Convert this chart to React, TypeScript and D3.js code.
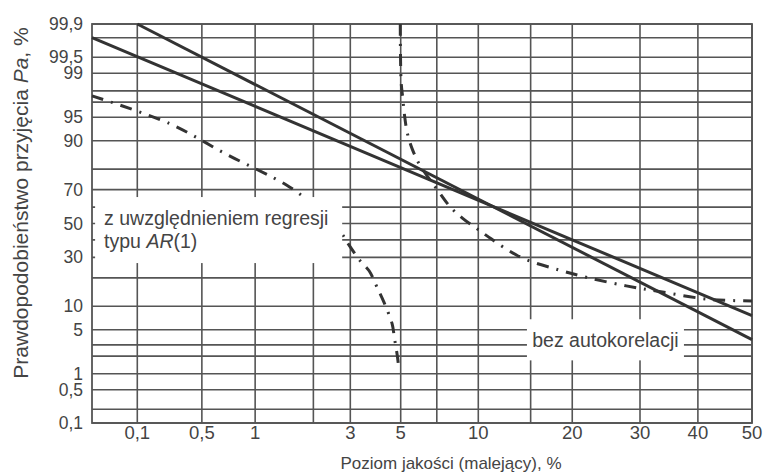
import * as d3 from "d3";

// probability-paper grid (both axes on a normal-probability scale)
const yGrid = [0.1, 0.2, 0.5, 1, 2, 3, 5, 10, 20, 30, 40, 50, 60, 70, 80, 90, 95, 97, 98, 99, 99.5, 99.8, 99.9];
const yTickValues = [99.9, 99.5, 99, 95, 90, 70, 50, 30, 10, 5, 1, 0.5, 0.1];
const yTickLabels = ["99,9", "99,5", "99", "95", "90", "70", "50", "30", "10", "5", "1", "0,5", "0,1"];

const xGrid = [0.2, 0.5, 1, 2, 3, 5, 7, 10, 15, 20, 30, 40, 50];
const xTickValues = [0.2, 0.5, 1, 3, 5, 10, 20, 30, 40, 50];
const xTickLabels = ["0,1", "0,5", "1", "3", "5", "10", "20", "30", "40", "50"];

// solid lines
const line1X = [0.2, 50];
const line1Y = [99.9, 3.6];
const line2X = [0.1, 50];
const line2Y = [99.8, 7.7];

// dash-dot curve, two branches around 5 %
const arLeftX = [0.1, 0.32, 0.69, 1.47, 1.9, 2.3, 2.74, 2.9, 3.33, 3.65, 3.97, 4.25, 4.6, 4.7, 4.85, 4.9];
const arLeftY = [97.6, 93.9, 85.9, 72.3, 63.4, 53, 43.7, 38.6, 28.1, 23.2, 15.9, 11, 6, 3.9, 1.9, 1.3];
const arRightX = [4.98, 5.02, 5.1, 5.2, 5.33, 5.6, 6.0, 7.2, 7.9, 8.8, 10, 11.1, 12.7, 14.4, 18.3, 22.2, 27.8, 33.2, 42.1, 50];
const arRightY = [99.9, 98.6, 97.4, 95, 91.9, 87.3, 81.7, 68, 60, 53, 46.2, 40.6, 33.9, 29, 23.6, 20, 16.7, 14.6, 12, 11.5];

// inverse normal CDF (Acklam)
function probit(p: number): number {
  const a = [-39.69683028665376, 220.9460984245205, -275.9285104469687, 138.357751867269, -30.66479806614716, 2.506628277459239];
  const b = [-54.47609879822406, 161.5858368580409, -155.6989798598866, 66.80131188771972, -13.28068155288572];
  const c = [-0.007784894002430293, -0.3223964580411365, -2.400758277161838, -2.549732539343734, 4.374664141464968, 2.938163982698783];
  const d = [0.007784695709041462, 0.3224671290700398, 2.445134137142996, 3.7544081614264];
  const plow = 0.02425;
  if (p < plow) {
    const q = Math.sqrt(-2 * Math.log(p));
    return (((((c[0] * q + c[1]) * q + c[2]) * q + c[3]) * q + c[4]) * q + c[5]) / ((((d[0] * q + d[1]) * q + d[2]) * q + d[3]) * q + 1);
  }
  if (p <= 1 - plow) {
    const q = p - 0.5;
    const r = q * q;
    return ((((((a[0] * r + a[1]) * r + a[2]) * r + a[3]) * r + a[4]) * r + a[5]) * q) / (((((b[0] * r + b[1]) * r + b[2]) * r + b[3]) * r + b[4]) * r + 1);
  }
  const q = Math.sqrt(-2 * Math.log(1 - p));
  return -(((((c[0] * q + c[1]) * q + c[2]) * q + c[3]) * q + c[4]) * q + c[5]) / ((((d[0] * q + d[1]) * q + d[2]) * q + d[3]) * q + 1);
}

const width = 766;
const height = 473;
const left = 92;
const right = 752;
const top = 24;
const bottom = 423;

const zx = d3.scaleLinear().domain([probit(0.001), probit(0.5)]).range([left, right]);
const zy = d3.scaleLinear().domain([probit(0.001), probit(0.999)]).range([bottom, top]);
const x = (p: number) => zx(probit(p / 100));
const y = (p: number) => zy(probit(p / 100));

const zip = (xs: number[], ys: number[]) => xs.map((v, i) => [v, ys[i]] as [number, number]);
const straight = d3.line<[number, number]>().x((d) => x(d[0])).y((d) => y(d[1]));
const curved = d3
  .line<[number, number]>()
  .x((d) => x(d[0]))
  .y((d) => y(d[1]))
  .curve(d3.curveCatmullRom);

const gridColor = "#555";
const inkColor = "#333";
const textColor = "#444";
const font = "'Liberation Sans', Arial, sans-serif";

const App = () => {
  // annotation boxes (data coords)
  const box1 = { x0: 0.105, x1: 2.75, y0: 65.9, y1: 27 };
  const box2 = { x0: 14.6, x1: 37.5, y0: 6.9, y1: 1.7 };

  return (
    <svg
      width={width}
      height={height}
      style={{ position: "absolute", left: 0, top: 0, background: "#fff" }}
      fontFamily={font}
    >
      {yGrid.map((v) => (
        <line key={"h" + v} x1={left} x2={right} y1={y(v)} y2={y(v)} stroke={gridColor} strokeWidth={1.6} />
      ))}
      {xGrid.map((v) => (
        <line key={"v" + v} x1={x(v)} x2={x(v)} y1={top} y2={bottom} stroke={gridColor} strokeWidth={1.6} />
      ))}
      <rect x={left} y={top} width={right - left} height={bottom - top} fill="none" stroke={gridColor} strokeWidth={1.8} />

      <path d={straight(zip(line1X, line1Y)) ?? ""} fill="none" stroke={inkColor} strokeWidth={3} />
      <path d={straight(zip(line2X, line2Y)) ?? ""} fill="none" stroke={inkColor} strokeWidth={3} />
      <path d={curved(zip(arLeftX, arLeftY)) ?? ""} fill="none" stroke={inkColor} strokeWidth={3} strokeDasharray="12 8 2 8" />
      <path d={curved(zip(arRightX, arRightY)) ?? ""} fill="none" stroke={inkColor} strokeWidth={3} strokeDasharray="12 8 2 8" />

      <rect x={x(box1.x0)} y={y(box1.y0)} width={x(box1.x1) - x(box1.x0)} height={y(box1.y1) - y(box1.y0)} fill="#fff" />
      <text x={x(box1.x0) + 9} y={y(box1.y0) + 28} fontSize={19.5} fill={textColor}>
        z uwzględnieniem regresji
      </text>
      <text x={x(box1.x0) + 9} y={y(box1.y0) + 51} fontSize={19.5} fill={textColor}>
        typu <tspan fontStyle="italic">AR</tspan>(1)
      </text>

      <rect x={x(box2.x0)} y={y(box2.y0)} width={x(box2.x1) - x(box2.x0)} height={y(box2.y1) - y(box2.y0)} fill="#fff" />
      <text
        x={(x(box2.x0) + x(box2.x1)) / 2}
        y={(y(box2.y0) + y(box2.y1)) / 2 + 7}
        textAnchor="middle"
        fontSize={19.5}
        fill={textColor}
      >
        bez autokorelacji
      </text>

      {yTickValues.map((v, i) => (
        <text key={"yt" + v} x={83} y={y(v)} dy="0.35em" textAnchor="end" fontSize={17.5} fill={textColor}>
          {yTickLabels[i]}
        </text>
      ))}
      {xTickValues.map((v, i) => (
        <text key={"xt" + v} x={x(v)} y={439} textAnchor="middle" fontSize={18.5} fill={textColor}>
          {xTickLabels[i]}
        </text>
      ))}

      <text x={451} y={469} textAnchor="middle" fontSize={17} fill={textColor}>
        Poziom jakości (malejący), %
      </text>
      <text transform="translate(28,203) rotate(-90)" textAnchor="middle" fontSize={21} fill={textColor}>
        Prawdopodobieństwo przyjęcia <tspan fontStyle="italic">Pa</tspan>, %
      </text>
    </svg>
  );
};

export default App;
